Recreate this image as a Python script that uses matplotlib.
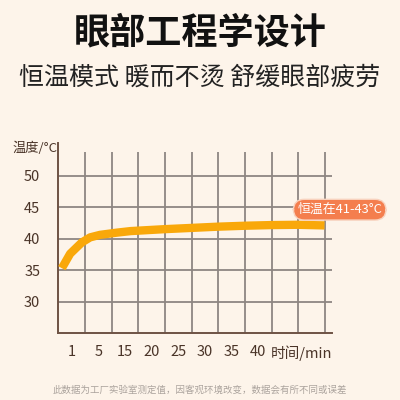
import matplotlib.pyplot as plt

plt.rcParams['font.family'] = ['Noto Sans CJK SC', 'DejaVu Sans']

# 数据
time_labels = ['1', '5', '15', '20', '25', '30', '35', '40']
y_ticks = [30, 35, 40, 45, 50]
curve_x = [0.13, 0.44, 0.88, 1.19, 1.56, 2.19, 2.71, 3.96, 4.97, 5.98, 7.0, 7.93, 8.97, 9.98]
curve_t = [35.3, 37.6, 39.4, 40.2, 40.6, 40.95, 41.2, 41.5, 41.7, 41.9, 42.05, 42.15, 42.2, 42.1]

bg = '#FDF4EA'
grid_c = '#8E8682'
axis_c = '#6E5244'
text_c = '#4A3428'

fig = plt.figure(figsize=(4, 4), dpi=100, facecolor=bg)
ax = fig.add_axes([0.146, 0.1675, 0.684, 0.475])
ax.set_facecolor(bg)
ax.set_xlim(0, 10.26)
ax.set_ylim(25, 55.2)

# 网格
for k in range(1, 11):
    ax.plot([k, k], [25, 53.7], color=grid_c, lw=1.3, zorder=1, solid_capstyle='butt')
for t in y_ticks:
    ax.plot([0, 10.26], [t, t], color=grid_c, lw=1.3, zorder=1, solid_capstyle='butt')

ax.plot(curve_x, curve_t, color='#F9A80A', lw=6, zorder=3, solid_capstyle='butt')

for s in ['top', 'right']:
    ax.spines[s].set_visible(False)
for s in ['left', 'bottom']:
    ax.spines[s].set_color(axis_c)
    ax.spines[s].set_linewidth(1.4)

ax.set_yticks(y_ticks)
ax.set_yticklabels([str(t) for t in y_ticks])
ax.set_xticks([i + 0.5 for i in range(len(time_labels))])
ax.set_xticklabels(time_labels)
ax.tick_params(length=0, colors=text_c, labelsize=10.5, pad=9)
ax.tick_params(axis='y', pad=13)

ax.text(9.1, 25 - 2.0, '时间/min', ha='center', va='top', color=text_c, fontsize=10.5)
fig.text(0.143, 0.63, '温度/°C', ha='right', va='center', color=text_c, fontsize=9.5)

# 标签
ax.annotate('恒温在41-43°C', xy=(10.55, 44.6), xycoords='data', ha='center', va='center',
            color='white', fontsize=9.3, zorder=5, annotation_clip=False,
            bbox=dict(boxstyle='round,pad=0.3,rounding_size=0.85', fc='#F47E4E', ec='#F8D2BE', lw=1))

fig.text(0.5, 0.917, '眼部工程学设计', ha='center', va='center', fontsize=26, fontweight='bold', color='#111111')
fig.text(0.5, 0.807, '恒温模式 暖而不烫 舒缓眼部疲劳', ha='center', va='center', fontsize=18, color='#222222')
fig.text(0.5, 0.025, '此数据为工厂实验室测定值，因客观环境改变，数据会有所不同或误差',
         ha='center', va='center', fontsize=6.8, color='#ABA39D')

fig.savefig('out.png', dpi=100, facecolor=bg)
